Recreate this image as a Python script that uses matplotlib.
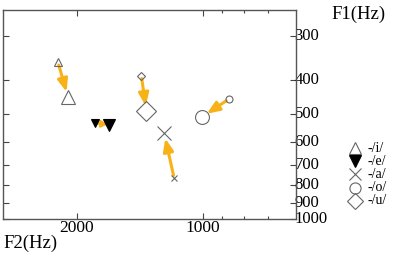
import matplotlib
matplotlib.use("Agg")
import matplotlib.pyplot as plt
from matplotlib.ticker import FixedLocator, NullFormatter, NullLocator

vowels = ["-/i/", "-/e/", "-/a/", "-/o/", "-/u/"]
markers = ["^", "v", "x", "o", "D"]
# start (small marker) and end (large marker) formant values
f2_start = [2218, 1810, 1172, 869, 1403]
f1_start = [356, 532, 764, 454, 389]
f2_end = [2098, 1672, 1238, 1005, 1364]
f1_end = [448, 537, 567, 510, 492]
x_ticks = [2000, 1000]
x_minor = [900, 800, 700]
y_ticks = [300, 400, 500, 600, 700, 800, 900, 1000]

plt.rcParams['font.family'] = ['Liberation Serif', 'DejaVu Serif']

W, H = 398, 257
fig = plt.figure(figsize=(W/100, H/100), dpi=100)
ax = fig.add_axes([3/W, 1-219/H, (296-3)/W, (219-10)/H])
ax.set_xscale('log')
ax.set_yscale('log')
ax.set_xlim(3000, 600)
ax.set_ylim(1000, 252)

gray = '#666666'
orange = '#F7B217'
small_ms = {'^': 5.5, 'v': 5.5, 'x': 5, 'o': 5, 'D': 4.5}
big_ms = {'^': 10.5, 'v': 8, 'x': 10, 'o': 10, 'D': 10}
for i in range(len(vowels)):
    m = markers[i]
    filled = vowels[i] == "-/e/"
    fc = 'black' if filled else 'none'
    ec = 'black' if filled else gray
    if filled:
        style = '-|>,head_length=0.35,head_width=0.2'
        lw, sa, sb = 1.6, 1, 1.5
    else:
        style = '-|>,head_length=0.75,head_width=0.3'
        lw, sa, sb = 2.2, 2, 4
    ax.annotate('', xy=(f2_end[i], f1_end[i]), xytext=(f2_start[i], f1_start[i]),
                arrowprops=dict(arrowstyle=style, color=orange, lw=lw,
                                shrinkA=sa, shrinkB=sb), zorder=2)
    ax.plot([f2_start[i]], [f1_start[i]], marker=m, ms=small_ms[m],
            mfc=fc, mec=ec, mew=0.8, ls='none', zorder=3)
    ax.plot([f2_end[i]], [f1_end[i]], marker=m, ms=big_ms[m],
            mfc=fc, mec=ec, mew=0.8, ls='none', zorder=3)

# legend (drawn in figure pixel coordinates)
leg_ms = {'^': 9, 'v': 8, 'x': 9, 'o': 8, 'D': 8}
for i in range(len(vowels)):
    m = markers[i]
    filled = vowels[i] == "-/e/"
    yy = 1 - (148 + 13.2 * i) / H
    fig.lines.append(plt.Line2D([355/W], [yy], marker=m, ms=leg_ms[m],
                                mfc='black' if filled else 'none',
                                mec='black' if filled else gray, mew=0.8, ls='none',
                                transform=fig.transFigure))
    fig.text(367/W, yy, vowels[i], fontsize=10, ha='left', va='center')

for s in ax.spines.values():
    s.set_color('#555555')
    s.set_linewidth(1.0)

ax.xaxis.set_major_locator(FixedLocator(x_ticks))
ax.xaxis.set_minor_locator(FixedLocator(x_minor))
ax.xaxis.set_minor_formatter(NullFormatter())
ax.set_xticklabels([str(v) for v in x_ticks])
ax.yaxis.set_major_locator(FixedLocator(y_ticks))
ax.yaxis.set_minor_locator(NullLocator())
ax.set_yticklabels([str(v) for v in y_ticks])
ax.yaxis.tick_right()
ax.tick_params(axis='both', which='both', direction='in', top=True, bottom=True,
               left=True, right=True, color='#444444', width=0.8)
ax.tick_params(axis='x', which='major', length=4, labelsize=12.5, pad=1)
ax.tick_params(axis='x', which='minor', length=2)
ax.tick_params(axis='y', which='major', length=4, labelsize=12, pad=-1)
for lab in ax.get_yticklabels():
    lab.set_verticalalignment('center')

fig.text(3/W, 1-243/H, 'F2(Hz)', fontsize=13.5, ha='left', va='center')
fig.text(359/W, 1-14/H, 'F1(Hz)', fontsize=13.5, ha='center', va='center')

fig.savefig('out.png', dpi=100)
